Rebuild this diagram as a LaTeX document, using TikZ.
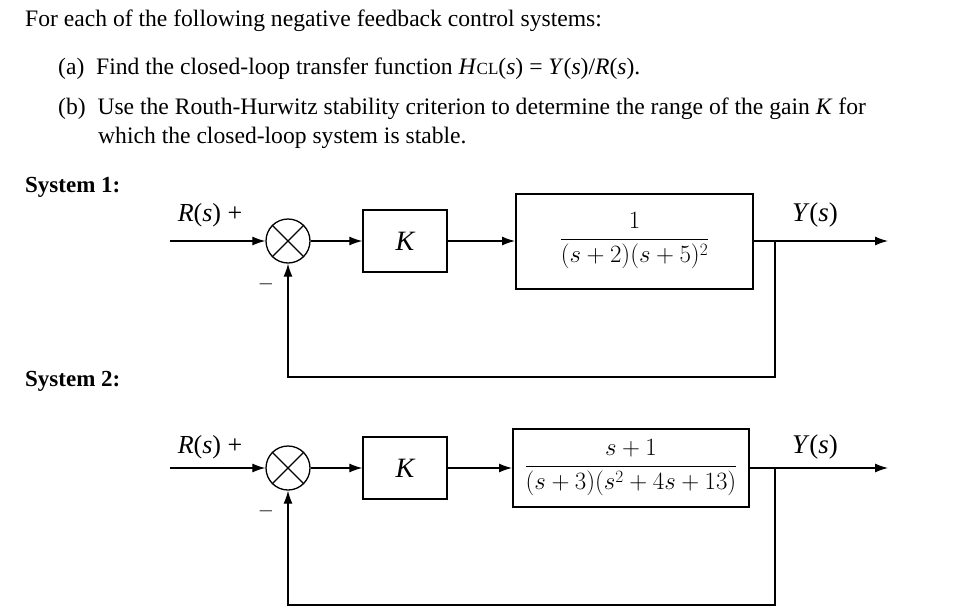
\documentclass[tikz,border=0pt]{standalone}
\usepackage{fontspec}
\setmainfont{Liberation Serif}
\usetikzlibrary{arrows.meta}
\begin{document}
\begin{tikzpicture}[x=1pt,y=-1pt,
  txt/.style={anchor=base west,inner sep=0,font=\fontsize{23.6}{28}\selectfont},
  blk/.style={draw,line width=1.3pt,inner sep=0},
  sum/.style={draw,circle,line width=1.3pt,minimum size=44pt,inner sep=0},
  sig/.style={line width=1.2pt,-{Latex[length=13pt,width=9pt]}},
  ln/.style={line width=1.2pt}]
\useasboundingbox (0,0) rectangle (974,613);
\fill[white] (0,0) rectangle (974,613);
\node[txt] (t1) at (25,27) {For each of the following negative feedback control systems:};
\node[txt] (t2) at (58,74) {(a)\ \ Find the closed-loop transfer function \textit{H}{\fontsize{17}{20}\selectfont CL}(\textit{s}) = \textit{Y}(\textit{s})/\textit{R}(\textit{s}).};
\node[txt] (t3) at (58,114) {(b)\ \ Use the Routh-Hurwitz stability criterion to determine the range of the gain \textit{K} for};
\node[txt] (t4) at (98,143) {which the closed-loop system is stable.};
\node[txt,font=\fontsize{23}{28}\selectfont\bfseries] (s1) at (25,192) {System 1:};
\node[txt,font=\fontsize{23}{28}\selectfont\bfseries] (s2) at (25,386) {System 2:};
\foreach \n/\y/\ty/\fb/\bx/\bw/\by/\bh/\fr in
 {a/241/215/377/515/237/195/95/{\frac{1}{(s+2)(s+5)^2}},
  b/468/447/605/512/236/428/78/{\frac{s+1}{(s+3)(s^2+4s+13)}}}{
  \coordinate (in\n) at (170,\y);
  \node[sum] (c\n) at (288,\y) {};
  \draw[ln] (c\n.north west) -- (c\n.south east) (c\n.north east) -- (c\n.south west);
  \node[blk,minimum width=84pt,minimum height=62pt,font=\fontsize{28}{30}\selectfont\itshape] (k\n) at (405,\y) {K};
  \node[blk,line width=2pt,minimum width=\bw pt,minimum height=\bh pt,anchor=west,font=\fontsize{25}{30}\selectfont] (g\n) at (\bx,\y) {$\displaystyle\fr$};
  \coordinate (o\n) at (888,\y);
  \coordinate (p\n) at (775,\y);
  \coordinate (f\n) at (775,\fb);
  \coordinate (q\n) at (288,\fb);
  \draw[sig] (in\n) -- (c\n);
  \draw[sig] (c\n) -- (k\n);
  \draw[sig] (k\n) -- (g\n);
  \draw[sig] (g\n) -- (o\n);
  \draw[sig] (p\n) -- (f\n) -- (q\n) -- (c\n);
  \node[font=\fontsize{26}{30}\selectfont] (r\n) at (210,\ty) {\textit{R}(\textit{s}) +};
  \node[font=\fontsize{27}{30}\selectfont] (y\n) at (815,\ty) {\textit{Y}(\textit{s})};
  \node[font=\fontsize{22}{26}\selectfont] (m\n) at (266,\y+43) {$-$};
}
\end{tikzpicture}
\end{document}
